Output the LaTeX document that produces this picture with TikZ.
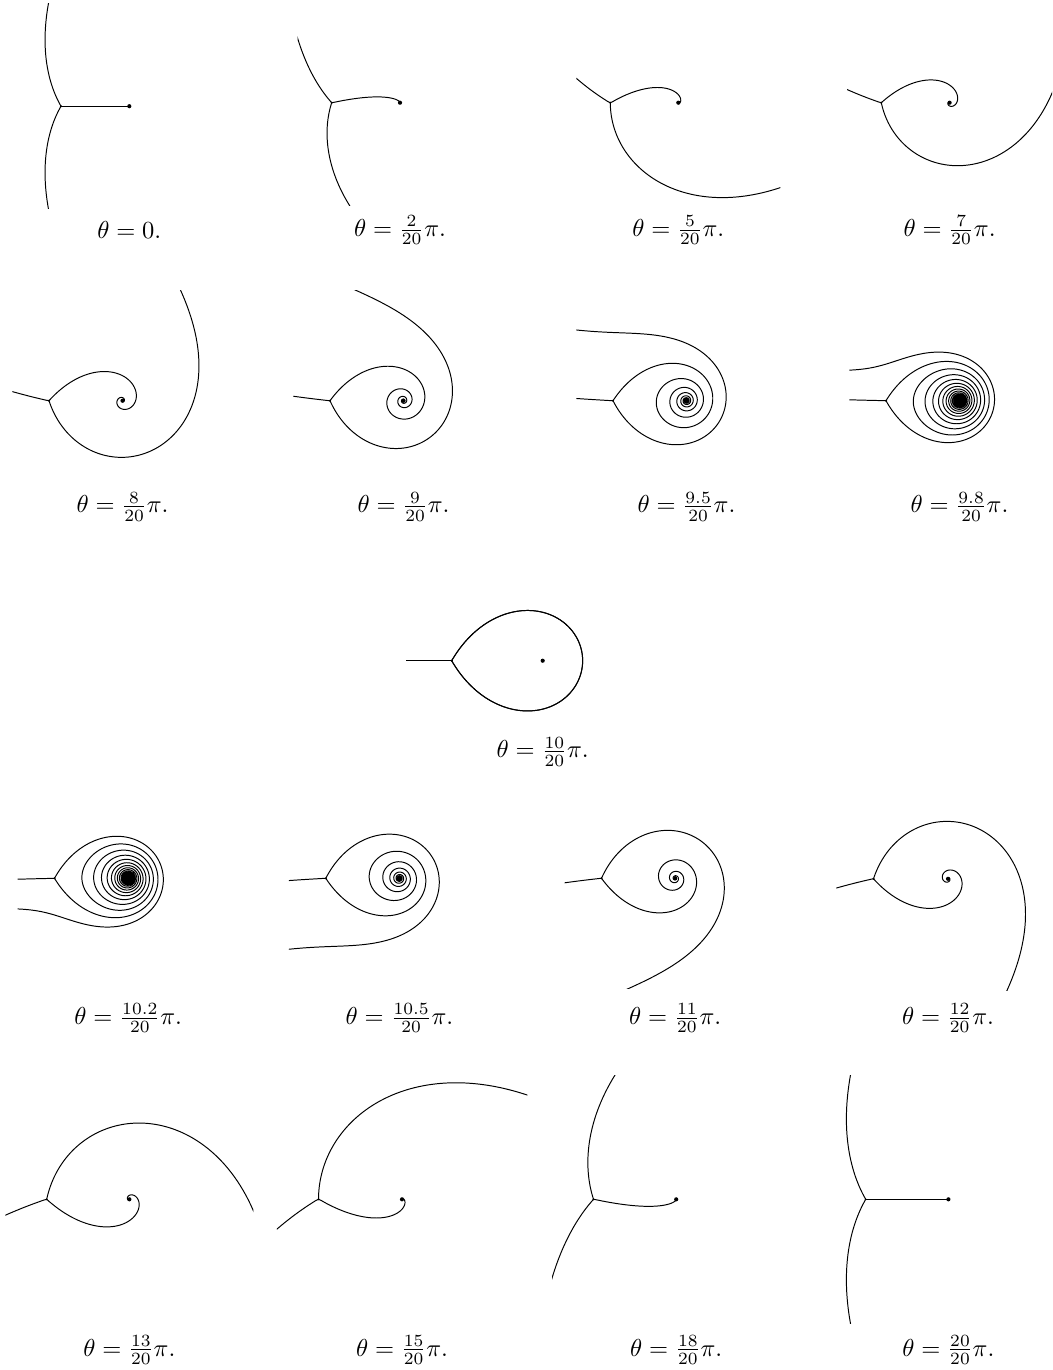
\documentclass[tikz,border=0pt]{standalone}
\usepackage{tikz}
\tikzset{
  curve/.style={line width=0.4pt, black},
  lbl/.style={anchor=base, inner sep=0pt, font=\normalsize}
}
\newif\iftjgoon
\newcount\tjcnt
% direction of the trajectory line field at (#1,#2), sign chosen close to \tjprev
\def\tjdir#1#2{%
  \pgfmathsetmacro\tjd{\tjth-0.5*atan2(#2,#1)+atan2(#2,(#1)-1)}%
  \pgfmathparse{cos(\tjd-(\tjprev))<0 ? \tjd+180 : \tjd}%
  \let\tjd\pgfmathresult
}
% critical trajectory from the zero (origin), theta #1 (deg), initial angle #2
\def\traj#1#2{%
  \pgfmathsetmacro\tjth{#1}%
  \pgfmathsetmacro\tjprev{#2}%
  \pgfmathsetmacro\tjx{0.002*cos(\tjprev)}%
  \pgfmathsetmacro\tjy{0.002*sin(\tjprev)}%
  \pgfpathmoveto{\pgfpointorigin}%
  \pgfpathlineto{\pgfpointxy{\tjx}{\tjy}}%
  \tjcnt=0
  \tjgoontrue
  \loop
    \tjdir{\tjx}{\tjy}%
    \pgfmathsetmacro\tjr{veclen((\tjx)-1,\tjy)}%
    \pgfmathsetmacro\tjh{min(0.035,0.15*\tjr)}%
    \pgfmathsetmacro\tjmx{\tjx+0.5*\tjh*cos(\tjd)}%
    \pgfmathsetmacro\tjmy{\tjy+0.5*\tjh*sin(\tjd)}%
    \let\tjprev\tjd
    \tjdir{\tjmx}{\tjmy}%
    \pgfmathsetmacro\tjx{\tjx+\tjh*cos(\tjd)}%
    \pgfmathsetmacro\tjy{\tjy+\tjh*sin(\tjd)}%
    \let\tjprev\tjd
    \pgfpathlineto{\pgfpointxy{\tjx}{\tjy}}%
    \advance\tjcnt by 1
    \pgfmathparse{(\tjr<0.012)||(\tjx<-0.56)||(\tjx>2.56)||(abs(\tjy)>1.56)||(\the\tjcnt>2500)||((\the\tjcnt>30)&&(veclen(\tjx,\tjy)<0.03)) ? 1 : 0}%
    \ifdim\pgfmathresult pt>0.5pt \tjgoonfalse\fi
  \iftjgoon\repeat
  \pgfusepath{stroke}%
}
% #1 name, #2 zero x, #3 zero y, #4 unit (px), #5 theta (deg), #6 label, #7 label baseline
\newcommand\panel[7]{%
  \pgfmathsetmacro\pnlu{#4*0.408}%
  \begin{scope}[shift={(#2,#3)}, x=\pnlu pt, y=\pnlu pt, curve]
    \clip (-0.5,-1.5) rectangle (2.5,1.5);
    \foreach \k in {0,1,2}{\traj{#5}{(2/3)*(#5+180*\k)}}
    \fill (1,0) circle[radius=0.85pt];
    \fill (0,0) circle[radius=0.45pt];
  \end{scope}
  \pgfmathsetmacro\pnlx{#2+#4}%
  \node[lbl] (#1) at (\pnlx,#7) {$\theta = #6$};
}
\begin{document}
\begin{tikzpicture}[x=0.408pt, y=-0.408pt]
\useasboundingbox (0,0) rectangle (1052,1370);
% row 1
\panel{l0}{61}{106.2}{68.3}{0}{0.}{238}
\panel{l2}{331.7}{102.7}{68.3}{18}{\frac{2}{20}\pi.}{236.5}
\panel{l5}{610.3}{102.7}{68}{45}{\frac{5}{20}\pi.}{236.5}
\panel{l7}{881.3}{102.7}{68.3}{63}{\frac{7}{20}\pi.}{236.5}
% row 2
\panel{l8}{49}{400.7}{73.5}{72}{\frac{8}{20}\pi.}{512.8}
\panel{l9}{330}{400.7}{73.5}{81}{\frac{9}{20}\pi.}{512.8}
\panel{l95}{613}{400.7}{73.5}{85.5}{\frac{9.5}{20}\pi.}{512.8}
\panel{l98}{886}{400.7}{73.5}{88.2}{\frac{9.8}{20}\pi.}{512.8}
% centre
\panel{l10}{451.7}{660.7}{91}{90}{\frac{10}{20}\pi.}{757.8}
% row 4
\panel{l102}{54.5}{878.3}{73.7}{91.8}{\frac{10.2}{20}\pi.}{1024.4}
\panel{l105}{325.8}{878.3}{73.7}{94.5}{\frac{10.5}{20}\pi.}{1024.4}
\panel{l11}{601.5}{878.3}{73.7}{99}{\frac{11}{20}\pi.}{1024.4}
\panel{l12}{873.5}{878.8}{74.5}{108}{\frac{12}{20}\pi.}{1024.4}
% row 5
\panel{l13}{46.7}{1199.3}{82.7}{117}{\frac{13}{20}\pi.}{1356}
\panel{l15}{318.5}{1199.3}{83.5}{135}{\frac{15}{20}\pi.}{1356}
\panel{l18}{593.5}{1199.3}{82.7}{162}{\frac{18}{20}\pi.}{1356}
\panel{l20}{865.7}{1199.3}{82.7}{180}{\frac{20}{20}\pi.}{1356}
\end{tikzpicture}
\end{document}
